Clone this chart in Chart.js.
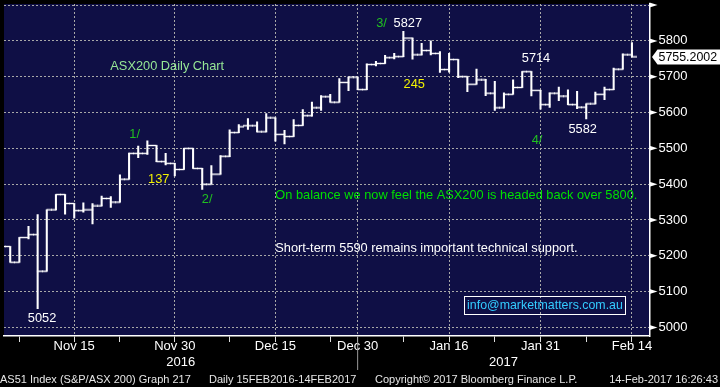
<!DOCTYPE html>
<html>
<head>
<meta charset="utf-8">
<script src="https://cdn.jsdelivr.net/npm/chart.js@4.4.1/dist/chart.umd.min.js"></script>
<style>
  html, body { margin: 0; padding: 0; background: #000; }
  canvas { display: block; }
</style>
</head>
<body>
<canvas id="chart" width="720" height="387"></canvas>
<script>
// AS51 daily bars, Nov 2016 - Feb 2017
const dates = [
  'Nov 3', 'Nov 4', 'Nov 7', 'Nov 8', 'Nov 9', 'Nov 10', 'Nov 11', 'Nov 14', 'Nov 15', 'Nov 16',
  'Nov 17', 'Nov 18', 'Nov 21', 'Nov 22', 'Nov 23', 'Nov 24', 'Nov 25', 'Nov 28', 'Nov 29', 'Nov 30',
  'Dec 1', 'Dec 2', 'Dec 5', 'Dec 6', 'Dec 7', 'Dec 8', 'Dec 9', 'Dec 12', 'Dec 13', 'Dec 14',
  'Dec 15', 'Dec 16', 'Dec 19', 'Dec 20', 'Dec 21', 'Dec 22', 'Dec 23', 'Dec 28', 'Dec 29', 'Dec 30',
  'Jan 3', 'Jan 4', 'Jan 5', 'Jan 6', 'Jan 9', 'Jan 10', 'Jan 11', 'Jan 12', 'Jan 13', 'Jan 16',
  'Jan 17', 'Jan 18', 'Jan 19', 'Jan 20', 'Jan 23', 'Jan 24', 'Jan 25', 'Jan 27', 'Jan 30', 'Jan 31',
  'Feb 1', 'Feb 2', 'Feb 3', 'Feb 6', 'Feb 7', 'Feb 8', 'Feb 9', 'Feb 10', 'Feb 13', 'Feb 14'
]
const open = [
  5240, 5226, 5182, 5251, 5259, 5157, 5328, 5371, 5346, 5326,
  5328, 5339, 5360, 5350, 5414, 5486, 5486, 5508, 5463, 5458,
  5441, 5500, 5444, 5400, 5428, 5478, 5544, 5563, 5563, 5546,
  5585, 5539, 5533, 5564, 5591, 5613, 5644, 5629, 5684, 5699,
  5664, 5734, 5737, 5753, 5756, 5808, 5761, 5773, 5765, 5720,
  5748, 5700, 5679, 5691, 5654, 5613, 5651, 5670, 5714, 5662,
  5622, 5654, 5646, 5622, 5615, 5624, 5651, 5664, 5721, 5761
]
const high = [
  5248, 5226, 5251, 5282, 5315, 5328, 5371, 5371, 5346, 5348,
  5346, 5367, 5365, 5426, 5487, 5506, 5521, 5508, 5486, 5458,
  5500, 5500, 5444, 5452, 5480, 5552, 5566, 5583, 5574, 5597,
  5585, 5550, 5580, 5608, 5629, 5647, 5651, 5695, 5699, 5699,
  5736, 5743, 5760, 5765, 5827, 5808, 5793, 5800, 5770, 5765,
  5748, 5700, 5721, 5693, 5687, 5655, 5691, 5714, 5714, 5662,
  5655, 5671, 5663, 5659, 5624, 5657, 5671, 5724, 5764, 5795
]
const low = [
  5212, 5182, 5182, 5247, 5052, 5157, 5328, 5316, 5305, 5322,
  5289, 5339, 5335, 5350, 5414, 5474, 5483, 5463, 5454, 5423,
  5441, 5444, 5385, 5400, 5428, 5477, 5544, 5553, 5546, 5546,
  5520, 5512, 5533, 5564, 5590, 5606, 5629, 5629, 5661, 5664,
  5664, 5730, 5737, 5750, 5756, 5749, 5761, 5761, 5712, 5713,
  5697, 5658, 5679, 5647, 5606, 5613, 5651, 5670, 5646, 5609,
  5614, 5633, 5622, 5611, 5582, 5624, 5636, 5664, 5721, 5755.2002
]
const close = [
  5226, 5182, 5251, 5259, 5157, 5328, 5371, 5346, 5326, 5328,
  5339, 5360, 5350, 5414, 5486, 5486, 5508, 5463, 5458, 5441,
  5500, 5444, 5400, 5428, 5478, 5544, 5560, 5563, 5546, 5585,
  5539, 5533, 5564, 5591, 5613, 5644, 5629, 5684, 5699, 5664,
  5734, 5737, 5753, 5756, 5808, 5761, 5773, 5765, 5720, 5748,
  5700, 5679, 5691, 5654, 5613, 5651, 5670, 5714, 5662, 5622,
  5654, 5646, 5622, 5615, 5624, 5651, 5664, 5721, 5761, 5755.2002
]

const majorTicks = ['Nov 15', 'Nov 30', 'Dec 15', 'Dec 30', 'Jan 16', 'Jan 31', 'Feb 14']
const minorTicks = ['Nov 7', 'Nov 22', 'Dec 8', 'Dec 23', 'Jan 9', 'Jan 23', 'Feb 7']
const yearBreak = 'Dec 30'
const years = ['2016', '2017']
const yLevels = [5000, 5100, 5200, 5300, 5400, 5500, 5600, 5700, 5800, 5900]

// text, day index, index level, colour
const notes = [
  ['ASX200 Daily Chart', 11.95, 5729, '#96e696'],
  ['1/', 14.02, 5540, '#20c020'],
  ['137', 16.08, 5413, '#f2f200'],
  ['2/', 21.95, 5357, '#20c020'],
  ['3/', 41.03, 5849, '#20c020'],
  ['5827', 42.93, 5849, '#ffffff'],
  ['245', 44.02, 5678, '#f2f200'],
  ['5714', 56.95, 5751, '#ffffff'],
  ['4/', 58.04, 5521, '#20c020'],
  ['5582', 62.06, 5553, '#ffffff'],
  ['5052', 2.93, 5024, '#ffffff'],
  ['On balance we now feel the ASX200 is headed back over 5800.', 29.99, 5369, '#00e000'],
  ['Short-term 5590 remains important technical support.', 29.99, 5220, '#ffffff']
]
const email = ['info@marketmatters.com.au', 50.97, 5061.5]

const FONT = '"Liberation Sans", Arial, sans-serif'
const NAVY = '#0f0f45'
const GRID = '#a8a8a8'

const majorIdx = majorTicks.map(d => dates.indexOf(d))
const minorIdx = minorTicks.map(d => dates.indexOf(d))

// open tick sits left of the bar, close tick right of it
function tickImage(side) {
  const c = document.createElement('canvas')
  c.width = 10
  c.height = 3
  const g = c.getContext('2d')
  g.fillStyle = '#fff'
  g.fillRect(side === 'left' ? 0 : 4.6, 0.8, 5.4, 1.4)
  return c
}

const bbgPlugin = {
  id: 'bbg',
  beforeDraw(chart) {
    const {ctx, chartArea: a} = chart
    ctx.save()
    ctx.fillStyle = '#000'
    ctx.fillRect(0, 0, chart.width, chart.height)
    ctx.fillStyle = NAVY
    ctx.fillRect(a.left, a.top, a.right - a.left, a.bottom - a.top)
    ctx.restore()
  },
  afterDraw(chart) {
    const {ctx, chartArea: a, scales: {x, y}} = chart
    ctx.save()

    // arrow heads on the hundreds
    ctx.fillStyle = '#fff'
    yLevels.forEach(v => {
      const py = y.getPixelForValue(v)
      ctx.beginPath()
      ctx.moveTo(a.right, py - 2.5)
      ctx.lineTo(a.right + 8, py)
      ctx.lineTo(a.right, py + 2.5)
      ctx.closePath()
      ctx.fill()
    })

    // year break and year labels
    const sep = x.getPixelForValue(dates.indexOf(yearBreak))
    ctx.strokeStyle = '#9a9a9a'
    ctx.lineWidth = 1
    ctx.beginPath()
    ctx.moveTo(sep, a.bottom)
    ctx.lineTo(sep, a.bottom + 34)
    ctx.stroke()
    ctx.font = '13px ' + FONT
    ctx.fillStyle = '#fff'
    ctx.textAlign = 'center'
    ctx.textBaseline = 'middle'
    ctx.fillText(years[0], (a.left + sep) / 2, 362)
    ctx.fillText(years[1], (sep + a.right) / 2, 362)

    // comments on the chart
    ctx.textAlign = 'left'
    ctx.font = '12.8px ' + FONT
    notes.forEach(([text, i, v, colour]) => {
      ctx.fillStyle = colour
      ctx.fillText(text, x.getPixelForValue(i), y.getPixelForValue(v))
    })

    ctx.font = '12.4px ' + FONT
    const ex = x.getPixelForValue(email[1])
    const ey = y.getPixelForValue(email[2])
    const ew = ctx.measureText(email[0]).width
    ctx.fillStyle = '#33ccff'
    ctx.fillText(email[0], ex, ey)
    ctx.strokeStyle = '#fff'
    ctx.strokeRect(Math.round(ex - 3) + 0.5, Math.round(ey - 9) + 0.5, Math.round(ew + 5), 18)

    // last price tag
    const last = close[close.length - 1]
    const py = y.getPixelForValue(last)
    ctx.fillStyle = '#fff'
    ctx.beginPath()
    ctx.moveTo(a.right + 2.5, py)
    ctx.lineTo(a.right + 8, py - 7.5)
    ctx.lineTo(chart.width, py - 7.5)
    ctx.lineTo(chart.width, py + 7.5)
    ctx.lineTo(a.right + 8, py + 7.5)
    ctx.closePath()
    ctx.fill()
    ctx.fillStyle = '#000'
    ctx.fillText(last.toFixed(4), a.right + 9, py + 0.5)

    // status line
    ctx.font = '11px ' + FONT
    ctx.fillStyle = '#e6e6e6'
    ctx.fillText('AS51 Index (S&P/ASX 200) Graph 217', 0, 380)
    ctx.fillText('Daily 15FEB2016-14FEB2017', 209, 380)
    ctx.fillText('Copyright\u00a9 2017 Bloomberg Finance L.P.', 375, 380)
    ctx.textAlign = 'right'
    ctx.fillText('14-Feb-2017 16:26:43', 718, 380)

    ctx.restore()
  }
}

const ranges = dates.map((d, i) => ({x: i, y: [low[i], high[i]]}))
const opens = dates.map((d, i) => ({x: i, y: open[i]}))
const closes = dates.map((d, i) => ({x: i, y: close[i]}))

new Chart(document.getElementById('chart'), {
  type: 'line',
  data: {
    datasets: [
      {type: 'bar', data: ranges, backgroundColor: '#fff', borderWidth: 0, barThickness: 1.4},
      {data: opens, showLine: false, pointStyle: tickImage('left'), pointRadius: 3, pointHoverRadius: 3},
      {data: closes, showLine: false, pointStyle: tickImage('right'), pointRadius: 3, pointHoverRadius: 3}
    ]
  },
  options: {
    responsive: false,
    animation: false,
    events: [],
    layout: {padding: 0},
    plugins: {legend: {display: false}, tooltip: {enabled: false}},
    scales: {
      x: {
        type: 'linear',
        min: 0.32,
        max: 70.92,
        offset: false,
        afterBuildTicks: s => {
          s.ticks = majorIdx.concat(minorIdx).sort((p, q) => p - q).map(v => ({value: v}))
        },
        afterFit: s => {
          s.height = 51
          s.paddingLeft = 0
          s.paddingRight = 0
        },
        grid: {
          offset: false,
          color: c => (c.tick && majorIdx.includes(c.tick.value)) ? GRID : 'transparent',
          tickColor: '#dddddd',
          tickLength: 6
        },
        border: {color: '#fff', width: 1.5, dash: [2, 2]},
        ticks: {
          autoSkip: false,
          maxRotation: 0,
          padding: -3,
          color: '#fff',
          font: {family: FONT, size: 13},
          callback: v => majorIdx.includes(v) ? dates[v] : ''
        }
      },
      y: {
        position: 'right',
        min: 4976,
        max: 5903,
        afterBuildTicks: s => {
          const t = []
          yLevels.forEach(v => {
            t.push({value: v})
            if (v < 5900) t.push({value: v + 50})
          })
          s.ticks = t
        },
        afterFit: s => {
          s.width = 70.5
          s.paddingTop = 0
          s.paddingBottom = 0
        },
        grid: {
          color: c => (c.tick && c.tick.value % 100 === 0) ? GRID : 'transparent',
          tickColor: '#fff',
          tickLength: 4
        },
        border: {color: '#fff', width: 1.5, dash: [2, 2]},
        ticks: {
          padding: 5,
          color: '#fff',
          font: {family: FONT, size: 13},
          callback: v => (v % 100 === 0 && v < 5900) ? v : ''
        }
      }
    }
  },
  plugins: [bbgPlugin]
})
</script>
</body>
</html>
